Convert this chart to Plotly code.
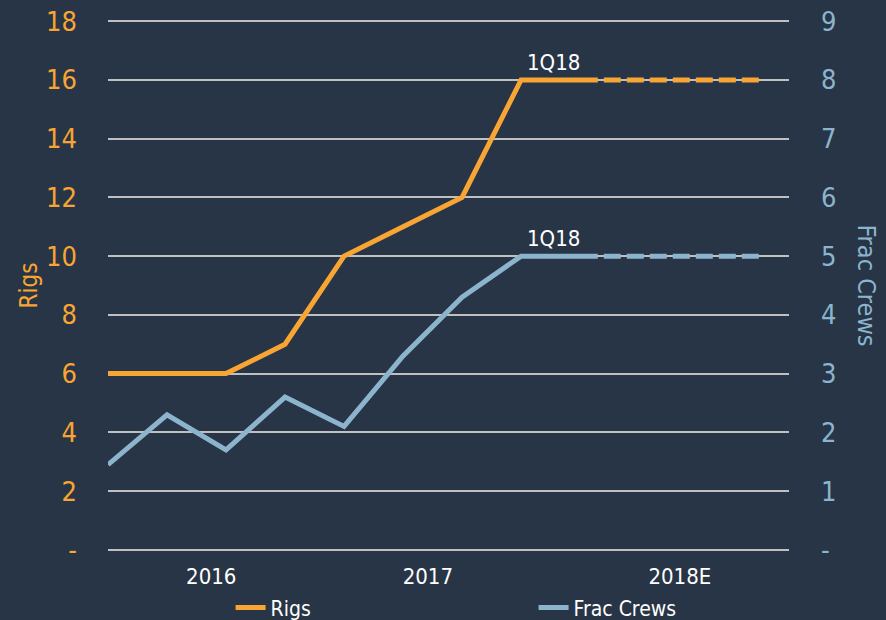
import plotly.graph_objects as go

# ---- data ----
period_idx = [0, 1, 2, 3, 4, 5, 6, 7, 8.3]
rigs = [6, 6, 6, 7, 10, 11, 12, 16, 16]
frac_crews = [1.45, 2.3, 1.7, 2.6, 2.1, 3.3, 4.3, 5, 5]
forecast_idx = [8.3, 11.07]
rigs_forecast = [16, 16]
frac_forecast = [5, 5]
x_tick_pos = [1.75, 5.42, 9.69]
x_tick_labels = ["2016", "2017", "2018E"]
left_ticks = [0, 2, 4, 6, 8, 10, 12, 14, 16, 18]
left_tick_labels = ["-", "2", "4", "6", "8", "10", "12", "14", "16", "18"]
right_ticks = [0, 1, 2, 3, 4, 5, 6, 7, 8, 9]
right_tick_labels = ["-", "1", "2", "3", "4", "5", "6", "7", "8", "9"]

BG = "#273546"
ORANGE = "#F9A533"
BLUE = "#8CB4CD"
GRID = "#C0C0C0"
NARROW = "Liberation Sans Narrow, DejaVu Sans Condensed, sans-serif"
COND = "DejaVu Sans Condensed, DejaVu Sans, sans-serif"
DASH = "0px,6px,17px,0px"

fig = go.Figure()
fig.add_trace(go.Scatter(x=period_idx, y=rigs, mode="lines", name="Rigs",
                         line=dict(color=ORANGE, width=5), yaxis="y"))
fig.add_trace(go.Scatter(x=period_idx, y=frac_crews, mode="lines", name="Frac Crews",
                         line=dict(color=BLUE, width=5), yaxis="y2"))
fig.add_trace(go.Scatter(x=forecast_idx, y=rigs_forecast, mode="lines", showlegend=False,
                         line=dict(color=ORANGE, width=5, dash=DASH), yaxis="y"))
fig.add_trace(go.Scatter(x=forecast_idx, y=frac_forecast, mode="lines", showlegend=False,
                         line=dict(color=BLUE, width=5, dash=DASH), yaxis="y2"))

fig.update_layout(
    width=886, height=620,
    paper_bgcolor=BG, plot_bgcolor=BG,
    margin=dict(l=108, r=97, t=20, b=69, autoexpand=False),
    font=dict(family=COND, size=22, color="white"),
    xaxis=dict(range=[0, 11.54], tickmode="array", tickvals=x_tick_pos,
               ticktext=x_tick_labels, showgrid=False, zeroline=False,
               showline=False, ticklabelstandoff=10, automargin=False,
               tickfont=dict(family=COND, size=22, color="white")),
    yaxis=dict(range=[-0.04, 18.04], tickmode="array", tickvals=left_ticks,
               ticktext=left_tick_labels, showgrid=True, gridcolor=GRID, gridwidth=2,
               zeroline=False, automargin=False,
               tickfont=dict(family=NARROW, size=27, color=ORANGE),
               ticklabelstandoff=30),
    yaxis2=dict(range=[-0.02, 9.02], overlaying="y", side="right", tickmode="array",
                tickvals=right_ticks, ticktext=right_tick_labels, showgrid=False,
                zeroline=False, automargin=False,
                tickfont=dict(family=NARROW, size=27, color=BLUE),
                ticklabelstandoff=31),
    legend=dict(orientation="h", x=0.18, xanchor="left", y=-0.107, yanchor="middle",
                font=dict(family=COND, size=21, color="white"),
                entrywidth=258, entrywidthmode="pixels", bgcolor="rgba(0,0,0,0)"),
    showlegend=True,
)

fig.add_annotation(x=7.55, y=16, yref="y", text="1Q18", showarrow=False,
                   yanchor="bottom", yshift=3, font=dict(family=COND, size=22, color="white"))
fig.add_annotation(x=7.55, y=5, yref="y2", text="1Q18", showarrow=False,
                   yanchor="bottom", yshift=3, font=dict(family=COND, size=22, color="white"))
fig.add_annotation(x=0, xref="paper", xshift=-80, xanchor="center", y=0.5, yref="paper",
                   text="Rigs", showarrow=False, textangle=-90,
                   font=dict(family=COND, size=24, color=ORANGE))
fig.add_annotation(x=1, xref="paper", xshift=77, xanchor="center", y=0.5, yref="paper",
                   text="Frac Crews", showarrow=False, textangle=90,
                   font=dict(family=COND, size=25, color=BLUE))

fig.write_html("out.html", config={"displayModeBar": False},
               post_script="document.body.style.margin='0';")
